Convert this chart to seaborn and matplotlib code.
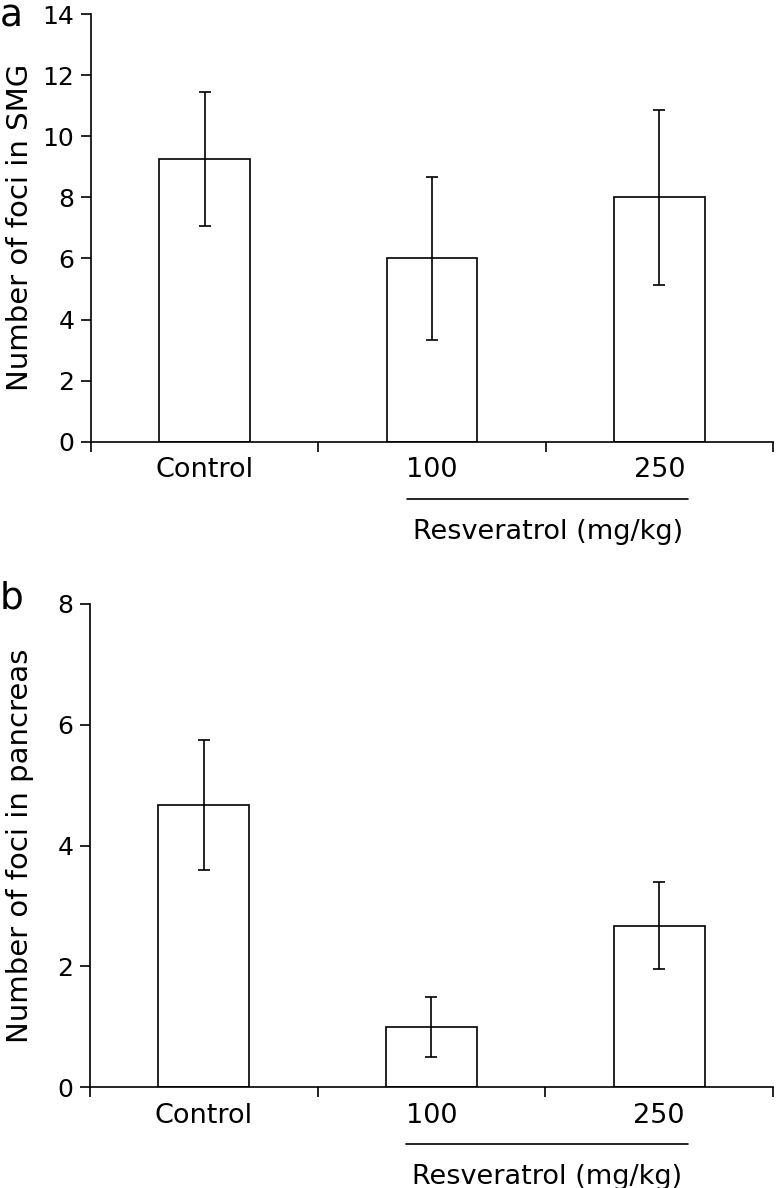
import matplotlib
matplotlib.use("Agg")
import matplotlib.pyplot as plt
import matplotlib.transforms as mtransforms
import seaborn as sns
import pandas as pd

# values (mean, error)
groups = ["Control", "100", "250"]
smg_mean = [9.25, 6.0, 8.0]
smg_err = [2.2, 2.67, 2.87]
panc_mean = [4.67, 1.0, 2.67]
panc_err = [1.08, 0.5, 0.72]

sns.set_style("ticks", {"axes.edgecolor": "black", "text.color": "black",
                        "axes.labelcolor": "black", "xtick.color": "black",
                        "ytick.color": "black"})
plt.rcParams['font.family'] = ['DejaVu Sans']

fig = plt.figure(figsize=(7.76, 11.88), dpi=100)
ax1 = fig.add_axes([0.1173, 0.6282, 0.8787, 0.36])
ax2 = fig.add_axes([0.1160, 0.0848, 0.8800, 0.4068])


def draw_panel(ax, means, errs, ylabel, ymax, ystep, letter, letter_y, ylab_x):
    df = pd.DataFrame({"group": groups, "mean": means})
    sns.barplot(data=df, x="group", y="mean", ax=ax, width=0.4,
                color="white", edgecolor="black", linewidth=1.2, errorbar=None)
    ax.errorbar(range(len(groups)), means, yerr=errs, fmt="none",
                ecolor="black", elinewidth=1.2, capsize=4, capthick=1.2)

    ax.set_xlim(-0.5, 2.5)
    ax.set_ylim(0, ymax)
    ax.set_yticks(range(0, ymax + 1, ystep))
    # tick marks sit between categories, labels under the bars
    ax.set_xticks([-0.5, 0.5, 1.5, 2.5])
    ax.set_xticklabels([])
    ax.set_xticks([0, 1, 2], minor=True)
    ax.set_xticklabels(groups, minor=True, fontsize=19.5)
    ax.tick_params(axis="x", which="minor", length=0, pad=11)
    ax.tick_params(axis="x", which="major", length=7, width=1.2, direction="out")
    ax.tick_params(axis="y", length=7, width=1.2, direction="out", labelsize=18, pad=5)

    ax.set_xlabel("")
    ax.set_ylabel(ylabel, fontsize=21)
    ax.yaxis.set_label_coords(ylab_x, 0.5)
    for s in ["top", "right"]:
        ax.spines[s].set_visible(False)
    for s in ["left", "bottom"]:
        ax.spines[s].set_linewidth(1.2)

    # bracket line + group label for the resveratrol doses
    h_px = ax.get_position().height * fig.get_figheight() * fig.dpi
    trans = mtransforms.blended_transform_factory(ax.transData, ax.transAxes)
    ax.plot([0.889, 2.128], [-57 / h_px, -57 / h_px], color="black", lw=1.2,
            transform=trans, clip_on=False)
    ax.text(1.51, -97 / h_px, "Resveratrol (mg/kg)", transform=trans,
            ha="center", va="baseline", fontsize=19.5)

    fig.text(0.0, letter_y, letter, fontsize=27, ha="left", va="baseline")


draw_panel(ax1, smg_mean, smg_err, "Number of foci in SMG", 14, 2, "a", 0.978, -0.083)
draw_panel(ax2, panc_mean, panc_err, "Number of foci in pancreas", 8, 2, "b", 0.4882, -0.082)

fig.savefig("out.png", dpi=100)
